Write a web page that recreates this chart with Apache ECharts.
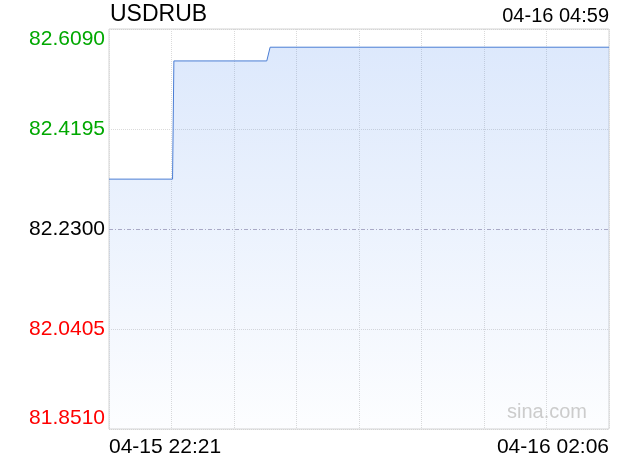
<!DOCTYPE html>
<html>
<head>
<meta charset="utf-8">
<script src="https://cdn.jsdelivr.net/npm/echarts@6/dist/echarts.min.js"></script>
<style>
html,body{margin:0;padding:0;background:#fff;}
#c{width:620px;height:460px;}
</style>
</head>
<body>
<div id="c"></div>
<script>
// ---- data ----
var symbol = "USDRUB";
var nowLabel = "04-16 04:59";
var prevClose = 82.2300;
var yStep = 0.1895;
var xLabels = ["04-15 22:21", "04-16 02:06"];
var totalMinutes = 225;               // 22:21 -> 02:06
var minutes = [0, 28.6, 29.2, 71.0, 72.5, 225];
var prices  = [82.3245, 82.3245, 82.5485, 82.5485, 82.5745, 82.5745];
var watermark = "sina.com";

var FONT = '"Liberation Sans", Arial, Helvetica, sans-serif';
var seriesData = minutes.map(function (m, i) { return [m, prices[i] - prevClose]; });

var chart = echarts.init(document.getElementById('c'), null, {renderer: 'canvas'});
chart.setOption({
  animation: false,
  backgroundColor: '#ffffff',
  grid: {left: 109, right: 11, top: 29, bottom: 31, show: true, borderColor: '#d4d4d4', borderWidth: 1, containLabel: false},
  graphic: [
    {type: 'text', left: 110, top: 3, style: {text: symbol, font: '23px ' + FONT, fill: '#000'}},
    {type: 'text', right: 11, top: 6, style: {text: nowLabel, font: '20px ' + FONT, fill: '#000'}},
    {type: 'text', left: 507, top: 402, z: 100, style: {text: watermark, font: '20px ' + FONT, fill: '#cccccc'}}
  ],
  xAxis: {
    type: 'value', min: 0, max: totalMinutes, interval: totalMinutes / 8,
    axisLine: {show: false}, axisTick: {show: false},
    splitLine: {show: true, lineStyle: {color: '#dadada', type: [1, 1], width: 1}},
    axisLabel: {
      show: true, margin: 8, fontSize: 21, fontFamily: FONT, color: '#000',
      alignMinLabel: 'left', alignMaxLabel: 'right',
      formatter: function (v) {
        if (Math.abs(v) < 1e-6) return xLabels[0];
        if (Math.abs(v - totalMinutes) < 1e-6) return xLabels[1];
        return '';
      }
    }
  },
  yAxis: {
    type: 'value', min: -2 * yStep, max: 2 * yStep, interval: yStep,
    axisLine: {show: false}, axisTick: {show: false},
    splitLine: {show: true, lineStyle: {color: ['#d4d4d4', '#dadada', 'rgba(0,0,0,0)', '#dadada', '#d4d4d4'], type: [1, 1]}},
    axisLabel: {
      margin: 4, fontSize: 21, fontFamily: FONT,
      verticalAlignMinLabel: 'bottom', verticalAlignMaxLabel: 'top',
      formatter: function (v) { return (v + prevClose).toFixed(4); },
      color: function (v) {
        var n = Number(v);
        if (n > 1e-6) return '#00a800';
        if (n < -1e-6) return '#ff0000';
        return '#000000';
      }
    }
  },
  series: [{
    type: 'line', data: seriesData, showSymbol: false, symbol: 'none',
    lineStyle: {color: '#4a7dd4', width: 1},
    areaStyle: {
      origin: 'start',
      color: new echarts.graphic.LinearGradient(0, 0, 0, 1, [
        {offset: 0, color: 'rgba(80,140,240,0.28)'},
        {offset: 1, color: 'rgba(80,140,240,0.02)'}
      ])
    },
    markLine: {
      silent: true, symbol: 'none', label: {show: false},
      lineStyle: {color: '#a9a9c6', type: [4, 2, 1, 2], width: 1},
      data: [{yAxis: 0}]
    }
  }]
});
</script>
</body>
</html>
